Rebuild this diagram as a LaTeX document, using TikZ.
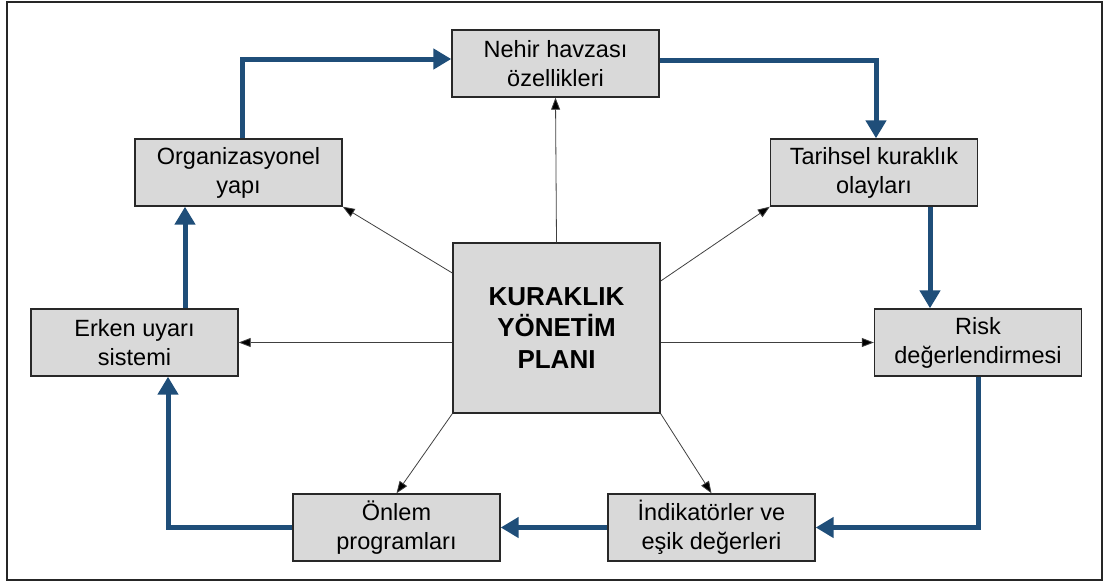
\documentclass[tikz,border=0pt]{standalone}
\usepackage{fontspec}
\setmainfont{Liberation Sans}
\usetikzlibrary{arrows.meta,calc}
\definecolor{flowblue}{RGB}{31,78,121}
\definecolor{boxfill}{RGB}{217,217,217}
\definecolor{boxline}{RGB}{40,40,40}
\tikzset{
  box/.style={draw=boxline, line width=1.4pt, fill=boxfill, minimum width=207pt, minimum height=67pt, inner sep=0pt, align=center, font=\fontsize{23.5}{29}\selectfont},
  bigbox/.style={box, minimum height=170pt, font=\bfseries\fontsize{26}{31.5}\selectfont},
  flow/.style={draw=flowblue, line width=5pt, -{Triangle[length=18pt,width=20pt]}},
  thin/.style={draw=black!75, line width=0.8pt, -{Triangle[length=12pt,width=9pt,fill=black]}}
}
\begin{document}
\begin{tikzpicture}[x=1pt,y=-1pt]
\useasboundingbox (0,0) rectangle (1105,581);
\draw[draw=black!85, line width=1.6pt] (7,2) rectangle (1102,580);
\node[bigbox] (c) at (556.5,328) {KURAKLIK\\YÖNETİM\\PLANI};
\node[box] (nehir) at (555.5,63.5) {Nehir havzası\\özellikleri};
\node[box] (tarih) at (874,172.5) {Tarihsel kuraklık\\olayları};
\node[box] (risk) at (978,342.5) {Risk\\değerlendirmesi};
\node[box] (indik) at (711.5,527.5) {İndikatörler ve\\eşik değerleri};
\node[box] (onlem) at (396.5,527.5) {Önlem\\programları};
\node[box] (erken) at (134.5,342.5) {Erken uyarı\\sistemi};
\node[box] (org) at (238.5,172.5) {Organizasyonel\\yapı};
% blue cycle
\draw[flow] ([xshift=3.5pt]org.north) |- ([yshift=4.5pt]nehir.west);
\draw[flow] ([yshift=3.5pt]nehir.east) -| ([xshift=2pt]tarih.north);
\draw[flow] ([xshift=56pt]tarih.south) -- ([xshift=56pt]tarih.south |- risk.north);
\draw[flow] (risk.south) |- (indik.east);
\draw[flow] (indik.west) -- (onlem.east);
\draw[flow] (onlem.west) -| ([xshift=33.5pt]erken.south);
\draw[flow] ([xshift=50.5pt]erken.north) -- ([xshift=50.5pt]erken.north |- org.south);
% thin arrows
\draw[thin] (c.north) -- (nehir.south);
\draw[thin] ([yshift=55pt]c.west) -- (org.south east);
\draw[thin] ([yshift=47pt]c.east) -- (tarih.south west);
\draw[thin] (c.west |- erken.east) -- (erken.east);
\draw[thin] (c.east |- risk.west) -- (risk.west);
\draw[thin] (c.south west) -- (onlem.north);
\draw[thin] (c.south east) -- (indik.north);
\end{tikzpicture}
\end{document}
